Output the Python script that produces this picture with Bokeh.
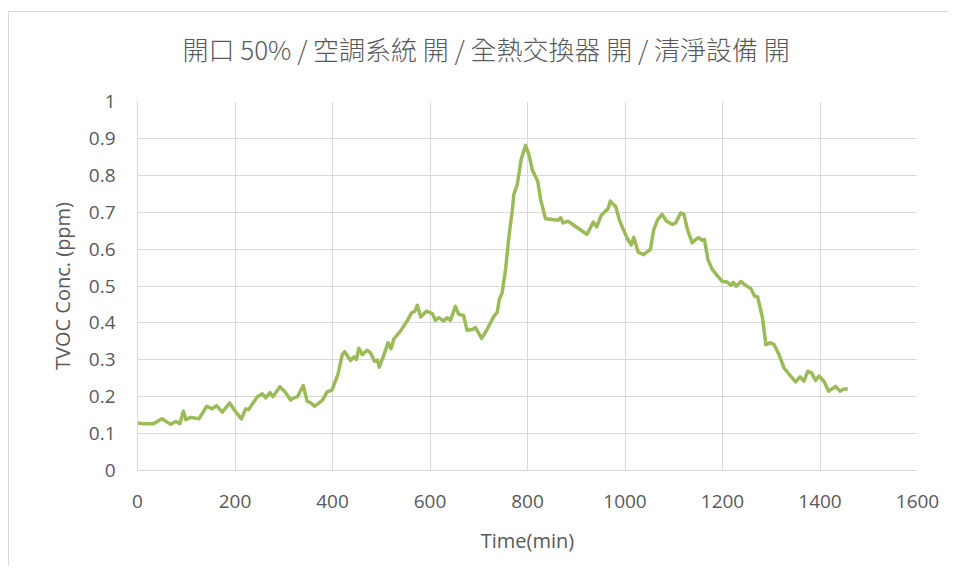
from bokeh.plotting import figure
from bokeh.embed import file_html
from bokeh.resources import INLINE
from bokeh.models import NumeralTickFormatter, Range1d, FixedTicker, Title

title_text = "開口 50% / 空調系統 開 / 全熱交換器 開 / 清淨設備 開"
x_label = "Time(min)"
y_label = "TVOC Conc. (ppm)"

time_min = [0, 12, 33, 50, 68, 78, 87, 94, 99, 109, 126, 142, 153, 162, 174, 189,
            203, 213, 222, 228, 237, 246, 256, 263, 272, 278, 292, 304, 314, 321,
            328, 340, 348, 356, 363, 379, 389, 399, 411, 420, 425, 437, 444, 449,
            454, 461, 471, 478, 486, 492, 496, 504, 514, 520, 526, 540, 553, 562,
            569, 574, 581, 593, 605, 611, 618, 628, 635, 642, 652, 659, 669, 676,
            687, 693, 706, 717, 731, 738, 742, 748, 755, 762, 769, 772, 779, 787,
            796, 803, 810, 821, 827, 837, 851, 862, 868, 873, 883, 898, 912, 922,
            929, 935, 942, 951, 960, 965, 970, 981, 989, 996, 1005, 1013, 1018,
            1027, 1038, 1052, 1059, 1067, 1076, 1085, 1097, 1104, 1114, 1121, 1128,
            1138, 1145, 1151, 1158, 1163, 1170, 1179, 1190, 1199, 1209, 1217, 1222,
            1228, 1238, 1247, 1258, 1266, 1272, 1282, 1289, 1298, 1306, 1316, 1326,
            1340, 1350, 1359, 1367, 1375, 1382, 1391, 1398, 1408, 1418, 1432, 1441,
            1449, 1457]
tvoc_ppm = [0.129, 0.127, 0.127, 0.140, 0.125, 0.133, 0.127, 0.161, 0.138, 0.144, 0.140,
            0.174, 0.167, 0.176, 0.158, 0.183, 0.156, 0.140, 0.167, 0.165, 0.183, 0.200,
            0.208, 0.197, 0.211, 0.200, 0.227, 0.211, 0.191, 0.197, 0.200, 0.230, 0.188,
            0.183, 0.174, 0.190, 0.213, 0.218, 0.260, 0.314, 0.322, 0.298, 0.308, 0.301,
            0.331, 0.314, 0.326, 0.319, 0.296, 0.299, 0.280, 0.308, 0.346, 0.330, 0.357,
            0.379, 0.405, 0.427, 0.432, 0.448, 0.416, 0.432, 0.425, 0.407, 0.414, 0.405,
            0.414, 0.407, 0.445, 0.423, 0.420, 0.380, 0.382, 0.388, 0.358, 0.382, 0.418,
            0.429, 0.463, 0.482, 0.545, 0.635, 0.707, 0.748, 0.775, 0.843, 0.881, 0.856,
            0.814, 0.784, 0.734, 0.682, 0.680, 0.678, 0.685, 0.671, 0.676, 0.662, 0.649,
            0.640, 0.658, 0.673, 0.660, 0.691, 0.703, 0.709, 0.730, 0.715, 0.677, 0.655,
            0.628, 0.611, 0.632, 0.592, 0.585, 0.599, 0.653, 0.680, 0.694, 0.676, 0.667,
            0.671, 0.698, 0.694, 0.653, 0.617, 0.626, 0.631, 0.624, 0.626, 0.572, 0.545,
            0.527, 0.513, 0.511, 0.502, 0.510, 0.499, 0.512, 0.502, 0.493, 0.472, 0.471,
            0.414, 0.341, 0.346, 0.341, 0.314, 0.278, 0.256, 0.240, 0.254, 0.242, 0.269,
            0.265, 0.244, 0.256, 0.242, 0.215, 0.228, 0.215, 0.221, 0.221]

x_ticks = [0, 200, 400, 600, 800, 1000, 1200, 1400, 1600]
y_ticks = [0, 0.1, 0.2, 0.3, 0.4, 0.5, 0.6, 0.7, 0.8, 0.9, 1.0]

TEXT = "#595959"
GRID = "#d9d9d9"
LINE = "#9bbb59"

p = figure(width=940, height=555, output_backend="svg", toolbar_location=None,
           x_range=Range1d(0, 1600), y_range=Range1d(0, 1),
           min_border_left=128, min_border_right=32, min_border_top=89,
           min_border_bottom=97, title=title_text)
p.styles = {"margin-left": "8px", "margin-top": "11px",
            "border-left": "1px solid #d9d9d9", "border-top": "1px solid #d9d9d9"}

p.title.text_font = "Noto Sans CJK TC Light, Noto Sans CJK TC"
p.title.text_font_size = "26px"
p.title.text_font_style = "normal"
p.title.text_color = TEXT
p.title.align = "left"
p.title.offset = 45
p.title.standoff = 0

# empty spacer between the title and the plot frame
p.add_layout(Title(text=" ", text_font_size="1px", standoff=32), "above")

p.line(time_min, tvoc_ppm, line_color=LINE, line_width=3.5, line_join="round")

p.xaxis.ticker = FixedTicker(ticks=x_ticks)
p.yaxis.ticker = FixedTicker(ticks=y_ticks)
p.yaxis.formatter = NumeralTickFormatter(format="0.[0]")

for ax in (p.xaxis, p.yaxis):
    ax.major_tick_line_color = None
    ax.minor_tick_line_color = None
    ax.major_tick_out = 0
    ax.major_tick_in = 0
    ax.axis_line_color = GRID
    ax.major_label_text_font = "Open Sans"
    ax.major_label_text_font_size = "19px"
    ax.major_label_text_color = TEXT
    ax.axis_label_text_font = "Open Sans"
    ax.axis_label_text_font_size = "20px"
    ax.axis_label_text_font_style = "normal"
    ax.axis_label_text_color = TEXT

p.xaxis.axis_label = x_label
p.yaxis.axis_label = y_label
p.xaxis.major_label_standoff = 24
p.xaxis.axis_label_standoff = 16
p.yaxis.major_label_standoff = 22
p.yaxis.axis_label_standoff = 10

p.xgrid.grid_line_color = GRID
p.ygrid.grid_line_color = GRID
p.xgrid.grid_line_width = 1
p.ygrid.grid_line_width = 1
p.outline_line_color = None
p.background_fill_color = "white"
p.border_fill_color = "white"

open("out.html", "w").write(file_html(p, INLINE))
